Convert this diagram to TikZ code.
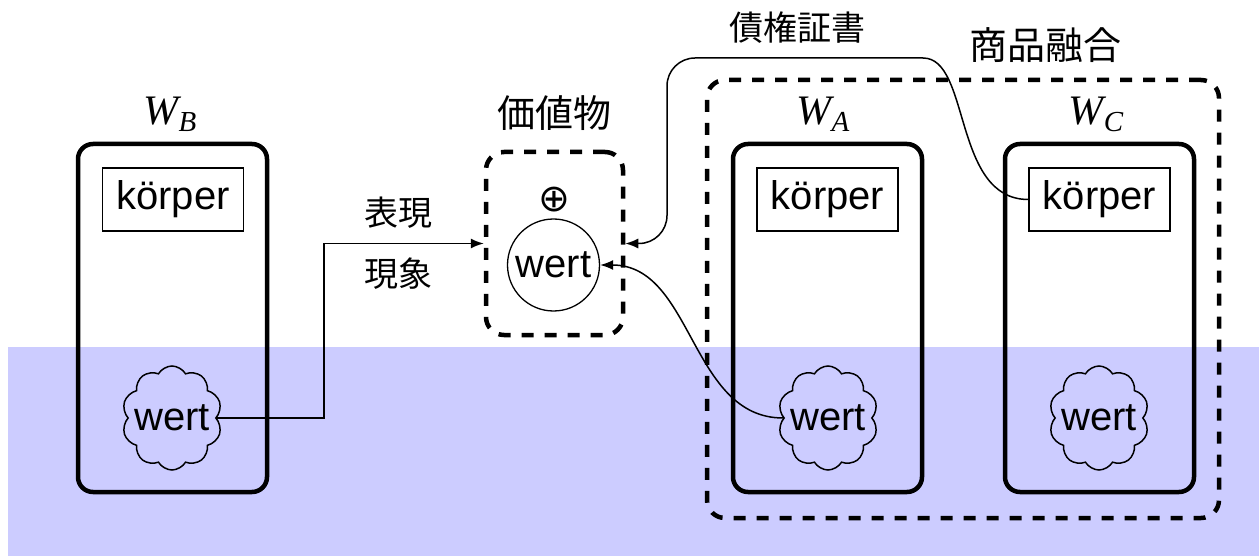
\documentclass[tikz,border=0pt]{standalone}
\usepackage{fontspec}
\setmainfont{Liberation Sans}
\newfontfamily\cjk{Noto Sans CJK JP}
\newfontfamily\serifit{Liberation Serif}
\newfontfamily\djv{DejaVu Sans}
\usetikzlibrary{shapes.symbols,arrows.meta}
\definecolor{bandblue}{RGB}{204,204,255}
\newcommand{\wlabel}[1]{{\serifit\itshape W\raisebox{-7pt}{\fontsize{29}{32}\selectfont #1}}}
\begin{document}
\begin{tikzpicture}[x=1pt,y=-1pt,
  body/.style={draw, line width=4.5pt, rounded corners=15pt, minimum width=189pt, minimum height=348pt},
  kbox/.style={draw, line width=1.3pt, minimum width=141pt, minimum height=63pt, inner sep=0pt, font=\fontsize{40}{48}\selectfont},
  wcloud/.style={cloud, draw, cloud puffs=10, cloud puff arc=120, aspect=1, line width=1.5pt, minimum width=100pt, minimum height=104pt, inner sep=0pt, font=\fontsize{40}{48}\selectfont},
  dbox/.style={draw, dash pattern=on 12pt off 11pt, line width=4.5pt, rounded corners=18pt},
  conn/.style={line width=1.5pt, -{Latex[length=13pt,width=10pt]}},
  wlbl/.style={anchor=base, inner sep=0pt, font=\fontsize{42}{48}\selectfont},
  cjkbig/.style={inner sep=0pt, font=\cjk\fontsize{38}{44}\selectfont},
  cjksmall/.style={inner sep=0pt, font=\cjk\fontsize{34}{40}\selectfont}
]
\useasboundingbox (0,0) rectangle (1259,556);
\fill[bandblue] (8,347) rectangle (1259,556);

% commodity bodies
\node[body] (bB) at (172.5,318) {};
\node[body] (bA) at (827.5,318) {};
\node[body] (bC) at (1099.5,318) {};

\node[kbox] (kB) at (173,199.5) {körper};
\node[kbox] (kA) at (827.5,199.5) {körper};
\node[kbox] (kC) at (1099.5,199.5) {körper};

\node[wcloud] (cB) at (172,418) {\makebox[0pt]{wert}};
\node[wcloud] (cA) at (828,418) {\makebox[0pt]{wert}};
\node[wcloud] (cC) at (1099,418) {\makebox[0pt]{wert}};

\node[wlbl] (lB) at (170,125) {\wlabel{B}};
\node[wlbl] (lA) at (823,125) {\wlabel{A}};
\node[wlbl] (lC) at (1096,125) {\wlabel{C}};

% value thing
\node[dbox, minimum width=137pt, minimum height=183pt] (val) at (554.5,243.5) {};
\node[draw, circle, line width=1.3pt, minimum size=92pt, inner sep=0pt, font=\fontsize{40}{48}\selectfont] (wv) at (553.5,265) {wert};
\node[inner sep=0pt, font=\djv\fontsize{38}{44}\selectfont] (plus) at (554,200) {⊕};
\node[cjkbig] (tval) at (554,113) {価値物};

% fusion
\node[dbox, minimum width=512pt, minimum height=438pt] (fusion) at (963,299) {};
\node[cjkbig] (tfus) at (1045,45) {商品融合};
\node[cjksmall] (tbond) at (797,28) {債権証書};

\node[cjksmall] (texp) at (398,213) {表現};
\node[cjksmall] (tphen) at (398,274) {現象};

% connectors
\draw[conn] (cB.east) -- ++(107,0) |- (val.west);
\draw[conn] (cA.west) to[out=180,in=0] (wv.east);
\coordinate (ctop) at (895,58);
\coordinate (cleft) at (667,58);
\coordinate (cdown) at (667,243.5);
\draw[conn, rounded corners=28pt] (kC.west) to[out=180,in=0] (ctop) -- (cleft) -- (cdown) -- (val.east);
\end{tikzpicture}
\end{document}
